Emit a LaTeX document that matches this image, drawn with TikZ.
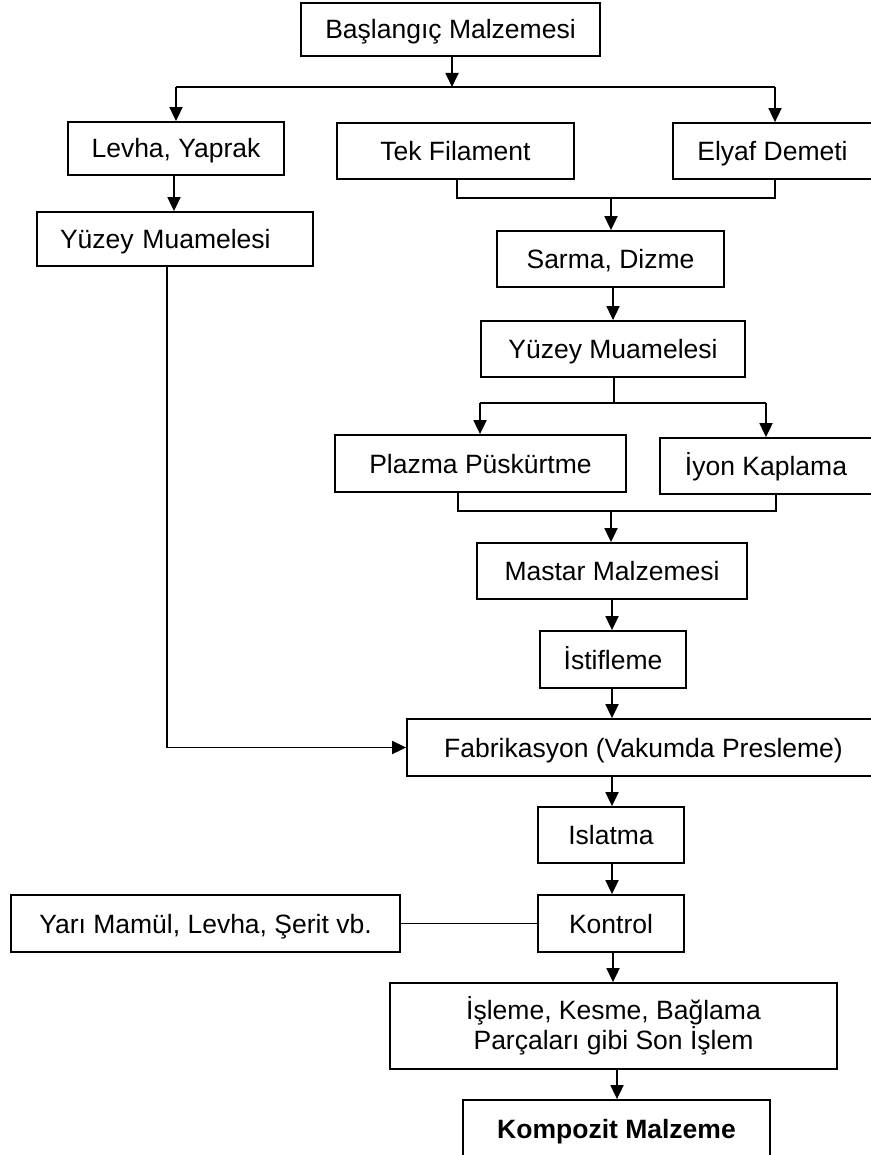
\documentclass[tikz,border=0pt]{standalone}
\usepackage{fontspec}
\setmainfont{Liberation Sans}
\usetikzlibrary{arrows.meta}
\begin{document}
\begin{tikzpicture}[x=1pt,y=-1pt,
  box/.style={draw=black,line width=1.8pt,fill=white,inner sep=0pt,align=center,
    font=\fontsize{26.5}{30}\selectfont},
  onel/.style={box,text height=19pt,text depth=0pt},
  conn/.style={draw=black,line width=1.8pt},
  arr/.style={conn,-{Triangle[length=14pt,width=13pt]}}]
\useasboundingbox (0,0) rectangle (870,1155);
% boxes
\node[onel,minimum width=299pt,minimum height=53pt] (top) at (450.5,29.5) {Başlangıç Malzemesi};
\node[onel,minimum width=216pt,minimum height=53pt] (levha) at (176,148.5) {Levha, Yaprak};
\node[onel,minimum width=237pt,minimum height=56pt] (tek) at (455.5,151) {Tek Filament};
\node[onel,minimum width=199pt,minimum height=56pt] (elyaf) at (772.5,151) {Elyaf Demeti};
\node[onel,minimum width=276pt,minimum height=54pt,text width=230pt,inner xsep=23pt,align=left] (yuzeyL) at (175,239) {Yüzey Muamelesi};
\node[onel,minimum width=227pt,minimum height=56pt] (sarma) at (610.5,259) {Sarma, Dizme};
\node[onel,minimum width=264pt,minimum height=56pt] (yuzeyC) at (613,349) {Yüzey Muamelesi};
\node[onel,minimum width=291pt,minimum height=57pt] (plazma) at (480.5,463.5) {Plazma Püskürtme};
\node[onel,minimum width=212pt,minimum height=56pt] (iyon) at (766,466) {İyon Kaplama};
\node[onel,minimum width=270pt,minimum height=56pt] (mastar) at (612,571) {Mastar Malzemesi};
\node[onel,minimum width=146pt,minimum height=57pt] (istif) at (613,659.5) {İstifleme};
\node[onel,minimum width=473pt,minimum height=57pt] (fab) at (643.5,747.5) {Fabrikasyon (Vakumda Presleme)};
\node[onel,minimum width=146pt,minimum height=56pt] (islatma) at (611,835) {Islatma};
\node[onel,minimum width=146pt,minimum height=57pt] (kontrol) at (611,923.5) {Kontrol};
\node[onel,minimum width=389pt,minimum height=57pt] (yari) at (205.5,923.5) {Yarı Mamül, Levha, Şerit vb.};
\node[box,minimum width=447pt,minimum height=86pt] (isleme) at (613.5,1026) {İşleme, Kesme, Bağlama\\Parçaları gibi Son İşlem};
\node[onel,minimum width=307pt,minimum height=57pt,font=\fontsize{26.5}{30}\selectfont\bfseries] (komp) at (616.5,1128.5) {Kompozit Malzeme};
% junction coordinates
\coordinate (j1) at (452,87);
\coordinate (j1l) at (176,87);
\coordinate (j1r) at (775,87);
\coordinate (j2) at (611,198);
\coordinate (j2l) at (457,198);
\coordinate (j2r) at (775,198);
\coordinate (j3) at (614,403);
\coordinate (j3l) at (480,403);
\coordinate (j3r) at (766,403);
\coordinate (j4) at (611,511);
\coordinate (j4l) at (458,511);
\coordinate (j4r) at (776,511);
\coordinate (j5) at (167,747.5);
% connectors
\draw[arr] (top.south -| j1) -- (j1);
\draw[conn] (j1l) -- (j1r);
\draw[arr] (j1l) -- (j1l |- levha.north);
\draw[arr] (j1r) -- (j1r |- elyaf.north);
\draw[arr] (levha.south -| 174,0) -- (174,0 |- yuzeyL.north);
\draw[conn] (j2l |- tek.south) -- (j2l) -- (j2r) -- (j2r |- elyaf.south);
\draw[arr] (j2) -- (j2 |- sarma.north);
\draw[arr] (sarma.south -| 613,0) -- (613,0 |- yuzeyC.north);
\draw[conn] (yuzeyC.south -| j3) -- (j3);
\draw[conn] (j3l) -- (j3r);
\draw[arr] (j3l) -- (j3l |- plazma.north);
\draw[arr] (j3r) -- (j3r |- iyon.north);
\draw[conn] (j4l |- plazma.south) -- (j4l) -- (j4r) -- (j4r |- iyon.south);
\draw[arr] (j4) -- (j4 |- mastar.north);
\draw[arr] (mastar.south -| 612,0) -- (612,0 |- istif.north);
\draw[arr] (istif.south -| 612,0) -- (612,0 |- fab.north);
\draw[conn] (yuzeyL.south -| j5) -- (j5);
\draw[arr] (j5) -- (fab.west);
\draw[arr] (fab.south -| 612,0) -- (612,0 |- islatma.north);
\draw[arr] (islatma.south -| 612,0) -- (612,0 |- kontrol.north);
\draw[conn] (yari.east) -- (kontrol.west);
\draw[arr] (kontrol.south -| 613,0) -- (613,0 |- isleme.north);
\draw[arr] (isleme.south -| 617,0) -- (617,0 |- komp.north);
\end{tikzpicture}
\end{document}
